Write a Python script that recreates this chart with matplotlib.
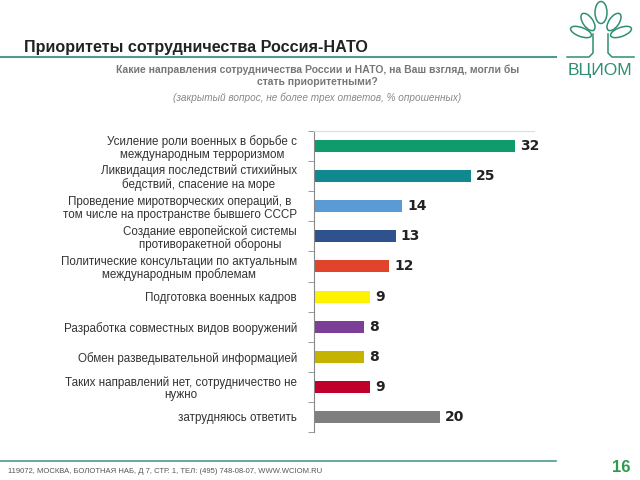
import numpy as np
import matplotlib.pyplot as plt
from matplotlib.patches import Ellipse

# data
categories = [
    'Усиление роли военных в борьбе с\nмеждународным терроризмом',
    'Ликвидация последствий стихийных\nбедствий, спасение на море',
    'Проведение миротворческих операций, в\nтом числе на пространстве бывшего СССР',
    'Создание европейской системы\nпротиворакетной обороны',
    'Политические консультации по актуальным\nмеждународным проблемам',
    'Подготовка военных кадров',
    'Разработка совместных видов вооружений',
    'Обмен разведывательной информацией',
    'Таких направлений нет, сотрудничество не\nнужно',
    'затрудняюсь ответить',
]
values = [32, 25, 14, 13, 12, 9, 8, 8, 9, 20]
colors = ['#0f9b6c', '#10898e', '#5b9bd5', '#2f528f', '#e0452b',
          '#fff200', '#7b3f98', '#c4b300', '#c0002b', '#7f7f7f']

plt.rcParams['font.family'] = ['Liberation Sans', 'DejaVu Sans']

fig = plt.figure(figsize=(6.4, 4.8), dpi=100)
ax = fig.add_axes([0.49, 0.10, 0.345, 0.627])

y = np.arange(len(values))
ax.barh(y, values, height=0.4, color=colors)
for yi, v in zip(y, values):
    ax.text(v + 0.8, yi, str(v), va='center', ha='left', fontsize=10,
            fontweight='bold', color='#222222', family='DejaVu Sans')

ax.set_ylim(len(values) - 0.5, -0.5)
ax.set_xlim(0, 35)
ax.set_yticks(y)
ax.set_yticklabels(categories, fontsize=8.4, color='#333333', linespacing=1.05,
                   multialignment='center')
ax.set_yticks(np.arange(len(values) + 1) - 0.5, minor=True)
ax.tick_params(axis='y', which='major', length=0, pad=12)
ax.tick_params(axis='y', which='minor', length=4, color='#888888', direction='out')
ax.set_xticks([])
for s in ['right', 'bottom']:
    ax.spines[s].set_visible(False)
ax.spines['top'].set_color('#dddddd')
ax.spines['left'].set_color('#888888')

# header
line_col = '#4e9a8c'
fig.text(0.038, 0.902, 'Приоритеты сотрудничества Россия-НАТО', fontsize=11.6,
         fontweight='bold', color='#222222', va='center')
fig.add_artist(plt.Line2D([0, 0.868], [0.881, 0.881], color=line_col, lw=1.5))
fig.add_artist(plt.Line2D([0, 0.868], [0.04, 0.04], color=line_col, lw=1.2))
fig.text(0.496, 0.865, 'Какие направления сотрудничества России и НАТО, на Ваш взгляд, могли бы\nстать приоритетными?',
         ha='center', va='top', fontsize=7.5, fontweight='bold', color='#777777', linespacing=1.25)
fig.text(0.496, 0.808, '(закрытый вопрос, не более трех ответов, % опрошенных)',
         ha='center', va='top', fontsize=7.2, style='italic', color='#888888')

# logo: outlined tree, drawn in pixel-like coordinates (y measured up from 100 px below the top)
green = '#2f8f72'
lg = fig.add_axes([560 / 640, 1 - 100 / 480, 80 / 640, 100 / 480])
lg.set_xlim(560, 640)
lg.set_ylim(0, 100)
lg.axis('off')
for cx, cy, w, h, ang in [(601, 87.5, 22, 12, 90), (588, 78, 20, 10, 125), (614, 78, 20, 10, 55),
                          (581, 68, 22, 9, 160), (621, 68, 22, 9, 20)]:
    lg.add_patch(Ellipse((cx, cy), w, h, angle=ang, fill=False, ec=green, lw=1.1))
lg.plot([593, 593, 589, 567], [66, 47, 43, 43], color=green, lw=1.1)
lg.plot([608, 608, 612, 634], [66, 47, 43, 43], color=green, lw=1.1)
lg.text(600, 30, 'ВЦИОМ', ha='center', va='center', fontsize=12.5, color=green)

# footer
fig.text(0.012, 0.018, '119072, МОСКВА, БОЛОТНАЯ НАБ, Д 7, СТР. 1, ТЕЛ: (495) 748-08-07, WWW.WCIOM.RU',
         fontsize=5.5, color='#555555', va='center')
fig.text(0.985, 0.027, '16', ha='right', va='center', fontsize=12, fontweight='bold', color='#2e9a4c')

fig.savefig('out.png', dpi=100)
